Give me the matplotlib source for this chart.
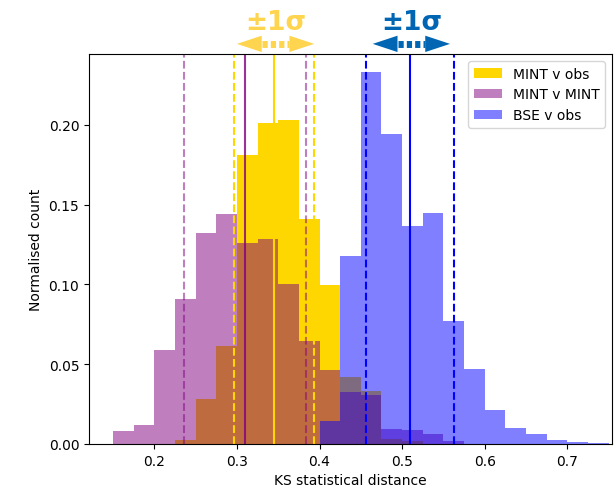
import numpy as np
import matplotlib
matplotlib.use("Agg")
import matplotlib.pyplot as plt
from matplotlib.patches import Polygon

# bin left edges, width 0.025
bin_w = 0.025
edges = np.round(np.arange(0.15, 0.75, bin_w), 3)

# normalised counts per bin
mint_obs = [0, 0, 0, 0.0025, 0.028, 0.0616, 0.181, 0.2013, 0.2034, 0.141,
            0.0997, 0.0418, 0.0334, 0.003, 0.002, 0, 0, 0, 0, 0, 0, 0, 0, 0]
mint_mint = [0.0081, 0.0117, 0.0589, 0.0907, 0.1325, 0.1442, 0.126, 0.1285,
             0.1003, 0.0646, 0.0466, 0.0328, 0.0307, 0.0095, 0.0085, 0.0065,
             0.002, 0, 0, 0, 0, 0, 0, 0]
bse_obs = [0, 0, 0, 0, 0, 0, 0, 0, 0, 0, 0.0146, 0.118, 0.233, 0.1944,
           0.1367, 0.1448, 0.0769, 0.0472, 0.0213, 0.0101, 0.006, 0.0027,
           0.0015, 0.0005]

# mean and +-1 sigma markers
mint_obs_mu, mint_obs_sig = 0.3453, (0.2969, 0.393)
mint_mint_mu, mint_mint_sig = 0.3098, (0.2363, 0.3833)
bse_mu, bse_sig = 0.5096, (0.4567, 0.5625)

labels = ["MINT v obs", "MINT v MINT", "BSE v obs"]

fig = plt.figure(figsize=(6.14, 4.89), dpi=100)
ax = fig.add_axes([0.145, 0.09, 0.8517, 0.7975])

ax.bar(edges, mint_obs, width=bin_w, align="edge", color="gold", label=labels[0])
ax.bar(edges, mint_mint, width=bin_w, align="edge", color="purple", alpha=0.5, label=labels[1])
ax.bar(edges, bse_obs, width=bin_w, align="edge", color="blue", alpha=0.5, label=labels[2])

lw = 1.5
ax.axvline(mint_obs_mu, color="gold", lw=lw)
for s in mint_obs_sig:
    ax.axvline(s, color="gold", lw=lw, ls="--")
ax.axvline(mint_mint_mu, color="purple", lw=lw, alpha=0.8)
for s in mint_mint_sig:
    ax.axvline(s, color="purple", lw=lw, ls="--", alpha=0.5)
ax.axvline(bse_mu, color="blue", lw=lw)
for s in bse_sig:
    ax.axvline(s, color="blue", lw=lw, ls="--")

ax.set_xlim(0.121, 0.754)
ax.set_ylim(0, 0.2445)
ax.set_xticks([0.2, 0.3, 0.4, 0.5, 0.6, 0.7])
ax.set_yticks([0.0, 0.05, 0.10, 0.15, 0.20])
ax.set_xlabel("KS statistical distance")
ax.set_ylabel("Normalised count")
ax.legend(loc="upper right")

# +-1 sigma badges above the axes
trans = ax.get_xaxis_transform()
badges = [(0.3, 0.3936, "#ffd54f"), (0.4644, 0.558, "#0066b3")]
head_l, head_h, ya = 0.03, 0.021, 1.026
for x0, x1, col in badges:
    xm = (x0 + x1) / 2
    ax.plot([x0 + head_l, x1 - head_l], [ya, ya], transform=trans, color=col,
            lw=5, ls=(0, (0.75, 0.45)), clip_on=False, solid_capstyle="butt")
    ax.add_patch(Polygon([[x0, ya], [x0 + head_l, ya + head_h], [x0 + head_l, ya - head_h]],
                         closed=True, color=col, transform=trans, clip_on=False, lw=0))
    ax.add_patch(Polygon([[x1, ya], [x1 - head_l, ya + head_h], [x1 - head_l, ya - head_h]],
                         closed=True, color=col, transform=trans, clip_on=False, lw=0))
    ax.text(xm, 1.082, "±1σ", transform=trans, color=col, fontsize=19,
            fontweight="bold", ha="center", va="center")

fig.savefig("out.png", dpi=100)
